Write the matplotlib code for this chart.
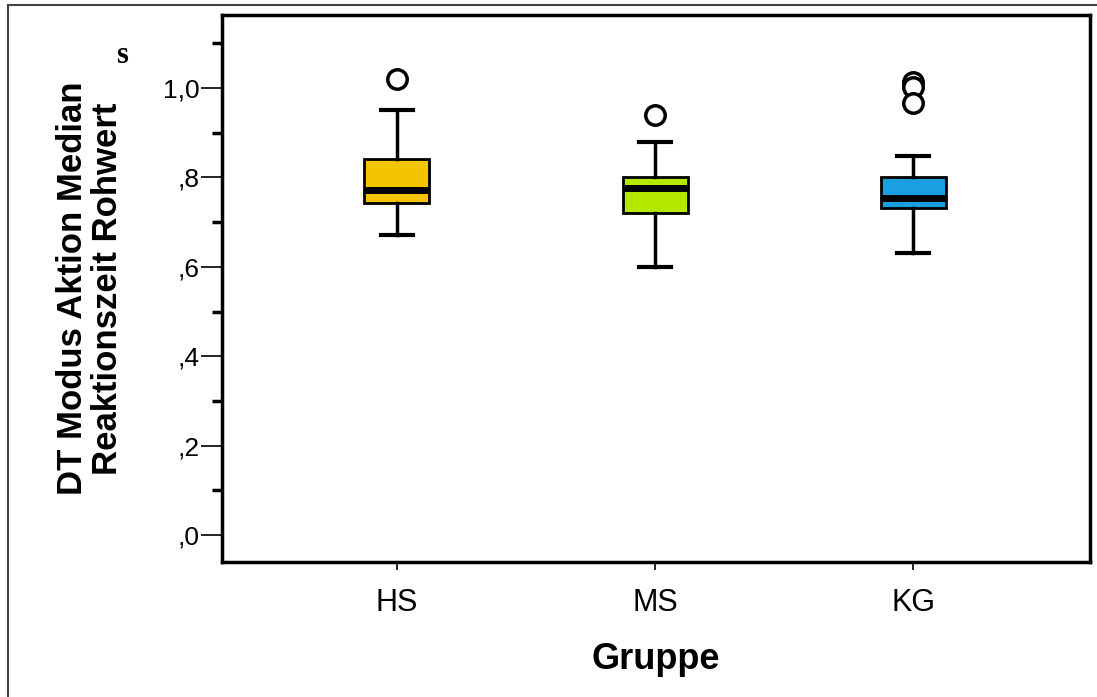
import matplotlib
matplotlib.use("Agg")
import matplotlib.pyplot as plt
from matplotlib.lines import Line2D
from matplotlib.ticker import FixedLocator

plt.rcParams['font.family'] = ['Liberation Sans', 'DejaVu Sans']

# values
groups = ["HS", "MS", "KG"]
medians = [0.772, 0.776, 0.754]
q1s = [0.743, 0.720, 0.731]
q3s = [0.841, 0.800, 0.800]
whis_lo = [0.671, 0.600, 0.631]
whis_hi = [0.951, 0.879, 0.848]
outliers = [[1.02], [0.94], [1.013, 1.002, 0.966]]
colors = ["#F5C400", "#B4E800", "#1A9FE2"]

stats = []
for i in range(len(groups)):
    stats.append(dict(label=groups[i], med=medians[i], q1=q1s[i], q3=q3s[i],
                      whislo=whis_lo[i], whishi=whis_hi[i], fliers=outliers[i]))

fig = plt.figure(figsize=(10.97, 6.97), dpi=100)
ax = fig.add_axes([0.2024, 0.1937, 0.7913, 0.7848])

pos = [1, 2, 3]
bp = ax.bxp(stats, positions=pos, widths=0.252, patch_artist=True,
            boxprops=dict(edgecolor="black", linewidth=2),
            medianprops=dict(color="black", linewidth=5),
            whiskerprops=dict(color="black", linewidth=2.5),
            capprops=dict(color="black", linewidth=3),
            flierprops=dict(marker="o", markersize=14, markerfacecolor="white",
                            markeredgecolor="black", markeredgewidth=2.5))
for patch, c in zip(bp["boxes"], colors):
    patch.set_facecolor(c)

ax.set_xlim(0.322, 3.686)
ax.set_ylim(-0.06, 1.163)
ax.yaxis.set_major_locator(FixedLocator([0.0, 0.2, 0.4, 0.6, 0.8, 1.0]))
ax.yaxis.set_minor_locator(FixedLocator([0.1, 0.3, 0.5, 0.7, 0.9, 1.1]))
ax.set_yticklabels([",0", ",2", ",4", ",6", ",8", "1,0"], fontsize=19)
ax.set_xticks(pos)
ax.set_xticklabels(groups, fontsize=22)
ax.tick_params(axis="y", which="major", length=15, width=1.2, direction="out", pad=1)
ax.tick_params(axis="y", which="minor", length=7, width=2.5, direction="out")
ax.tick_params(axis="x", length=6, width=1.2, direction="out", pad=13)

for s in ax.spines.values():
    s.set_linewidth(2.5)

ax.set_ylabel("DT Modus Aktion Median\nReaktionszeit Rohwert", fontsize=25,
              fontweight="bold", labelpad=28, linespacing=1.1)
ax.set_xlabel("Gruppe", fontsize=26, fontweight="bold", labelpad=17)

fig.text(0.111, 0.921, "s", fontsize=22, fontweight="bold", family="Liberation Serif",
         ha="center", va="center")

# outer frame (top and left edges)
fig.add_artist(Line2D([0.0073, 1.0], [0.9928, 0.9928], color="#444444", linewidth=1.5,
                      transform=fig.transFigure))
fig.add_artist(Line2D([0.0073, 0.0073], [0.0, 0.9928], color="#444444", linewidth=1.5,
                      transform=fig.transFigure))

fig.savefig("out.png", dpi=100)
